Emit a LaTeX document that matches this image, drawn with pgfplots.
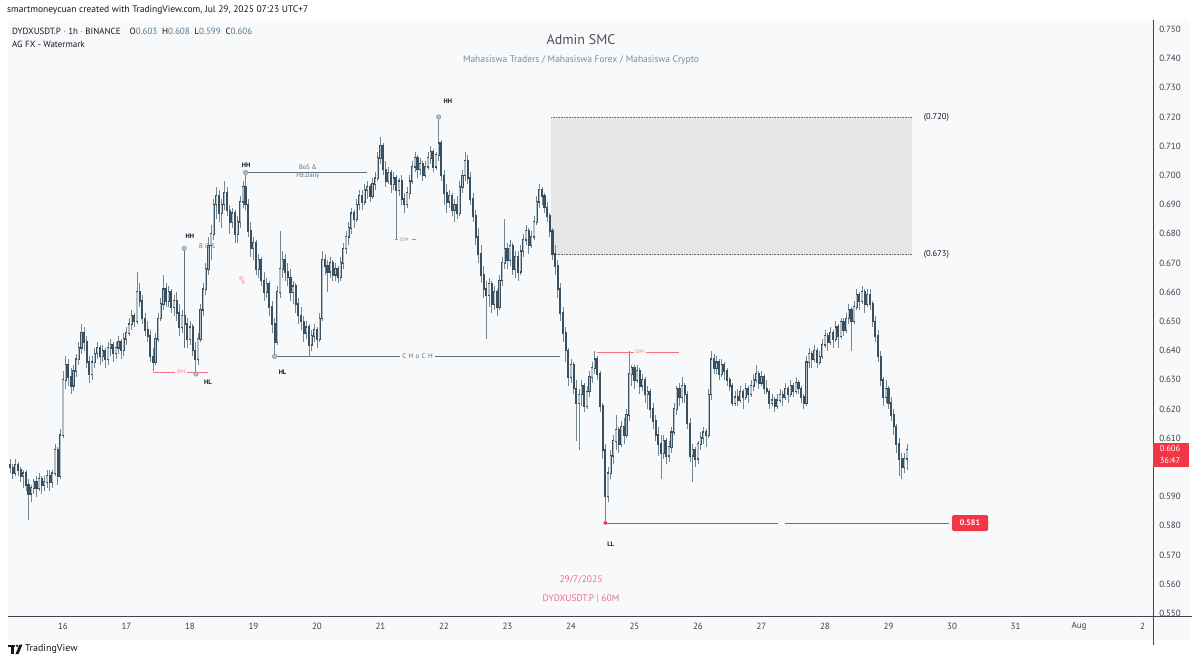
\documentclass[border=0pt]{standalone}
\usepackage{fontspec}
\setmainfont{PT Sans}
\usepackage{pgfplots}
\usepackage{pgfplotstable}
\pgfplotsset{compat=1.18}
\pgfdeclarelayer{bg}
\pgfsetlayers{bg,main}

\definecolor{pane}{HTML}{F8F9FA}
\definecolor{zone}{HTML}{E6E6E6}
\definecolor{upbody}{HTML}{B0BEC8}
\definecolor{downbody}{HTML}{3A5061}
\definecolor{wick}{HTML}{74868F}
\definecolor{tvred}{HTML}{F23645}
\definecolor{idmred}{HTML}{F2737C}
\definecolor{annot}{HTML}{5E6E7A}
\definecolor{ink}{HTML}{131722}
\definecolor{tick}{HTML}{3C4048}
\definecolor{wmgray}{HTML}{7A8C98}
\definecolor{wmpink}{HTML}{EC6F8E}
\definecolor{ohlc}{HTML}{5C7888}

% hourly candles, t = hours since Jul 15 04:00 (UTC+7)
\pgfplotstableread{
t o h l c
0 0.601 0.603 0.598 0.600
1 0.600 0.601 0.596 0.598
2 0.598 0.603 0.597 0.601
3 0.601 0.602 0.597 0.599
4 0.599 0.600 0.595 0.597
5 0.597 0.599 0.593 0.598
6 0.598 0.599 0.592 0.594
7 0.594 0.596 0.582 0.591
8 0.591 0.594 0.588 0.593
9 0.593 0.596 0.591 0.595
10 0.595 0.597 0.590 0.593
11 0.593 0.598 0.592 0.596
12 0.596 0.597 0.591 0.594
13 0.594 0.597 0.592 0.595
14 0.595 0.599 0.593 0.597
15 0.597 0.599 0.592 0.595
16 0.595 0.599 0.593 0.598
17 0.598 0.608 0.597 0.606
18 0.606 0.607 0.594 0.597
19 0.597 0.613 0.596 0.611
20 0.611 0.633 0.610 0.630
21 0.630 0.638 0.627 0.635
22 0.635 0.637 0.628 0.631
23 0.631 0.634 0.625 0.628
24 0.628 0.635 0.626 0.633
25 0.633 0.639 0.631 0.637
26 0.637 0.643 0.635 0.641
27 0.641 0.649 0.639 0.646
28 0.646 0.648 0.640 0.643
29 0.643 0.645 0.634 0.636
30 0.636 0.638 0.629 0.632
31 0.632 0.638 0.630 0.636
32 0.636 0.641 0.634 0.639
33 0.639 0.643 0.637 0.641
34 0.641 0.642 0.635 0.638
35 0.638 0.642 0.636 0.640
36 0.640 0.641 0.634 0.637
37 0.637 0.643 0.635 0.641
38 0.641 0.644 0.638 0.642
39 0.642 0.643 0.636 0.639
40 0.639 0.643 0.637 0.641
41 0.641 0.645 0.639 0.643
42 0.643 0.644 0.637 0.640
43 0.640 0.646 0.638 0.644
44 0.644 0.648 0.642 0.646
45 0.646 0.651 0.645 0.649
46 0.649 0.654 0.647 0.652
47 0.652 0.653 0.648 0.650
48 0.650 0.667 0.649 0.660
49 0.660 0.663 0.655 0.657
50 0.657 0.659 0.649 0.651
51 0.651 0.653 0.645 0.647
52 0.647 0.650 0.643 0.645
53 0.645 0.647 0.636 0.638
54 0.638 0.641 0.633 0.636
55 0.636 0.646 0.635 0.644
56 0.644 0.653 0.643 0.651
57 0.651 0.658 0.650 0.656
58 0.656 0.666 0.654 0.661
59 0.661 0.663 0.655 0.657
60 0.657 0.662 0.655 0.660
61 0.660 0.661 0.653 0.655
62 0.655 0.659 0.652 0.657
63 0.657 0.660 0.650 0.653
64 0.653 0.656 0.645 0.648
65 0.648 0.654 0.646 0.652
66 0.652 0.655 0.647 0.649
67 0.649 0.651 0.641 0.644
68 0.644 0.650 0.642 0.648
69 0.648 0.649 0.638 0.640
70 0.640 0.643 0.632 0.637
71 0.637 0.646 0.635 0.644
72 0.644 0.656 0.643 0.654
73 0.654 0.663 0.652 0.661
74 0.661 0.670 0.659 0.668
75 0.668 0.679 0.666 0.676
76 0.676 0.683 0.671 0.680
77 0.680 0.692 0.678 0.690
78 0.690 0.696 0.685 0.693
79 0.693 0.695 0.684 0.687
80 0.687 0.692 0.682 0.690
81 0.690 0.698 0.688 0.694
82 0.694 0.696 0.686 0.688
83 0.688 0.690 0.680 0.684
84 0.684 0.689 0.682 0.687
85 0.687 0.688 0.677 0.680
86 0.680 0.686 0.677 0.684
87 0.684 0.693 0.682 0.691
88 0.691 0.698 0.689 0.696
89 0.696 0.701 0.688 0.690
90 0.690 0.692 0.679 0.681
91 0.681 0.684 0.672 0.675
92 0.675 0.679 0.671 0.677
93 0.677 0.678 0.666 0.668
94 0.668 0.673 0.665 0.671
95 0.671 0.672 0.662 0.664
96 0.664 0.667 0.657 0.660
97 0.660 0.665 0.658 0.663
98 0.663 0.664 0.652 0.655
99 0.655 0.657 0.646 0.649
100 0.649 0.651 0.638 0.643
101 0.643 0.662 0.642 0.660
102 0.660 0.681 0.658 0.668
103 0.668 0.674 0.665 0.671
104 0.671 0.673 0.664 0.667
105 0.667 0.670 0.662 0.665
106 0.665 0.668 0.657 0.660
107 0.660 0.664 0.656 0.662
108 0.662 0.663 0.653 0.656
109 0.656 0.658 0.649 0.652
110 0.652 0.655 0.647 0.650
111 0.650 0.652 0.643 0.646
112 0.646 0.650 0.644 0.648
113 0.648 0.649 0.638 0.642
114 0.642 0.647 0.640 0.645
115 0.645 0.649 0.643 0.647
116 0.647 0.648 0.641 0.644
117 0.644 0.653 0.643 0.651
118 0.651 0.674 0.650 0.671
119 0.671 0.673 0.666 0.669
120 0.669 0.671 0.660 0.667
121 0.667 0.672 0.665 0.670
122 0.670 0.671 0.664 0.666
123 0.666 0.670 0.664 0.668
124 0.668 0.669 0.663 0.665
125 0.665 0.672 0.664 0.670
126 0.670 0.677 0.668 0.675
127 0.675 0.681 0.673 0.679
128 0.679 0.684 0.676 0.682
129 0.682 0.689 0.680 0.687
130 0.687 0.688 0.682 0.685
131 0.685 0.692 0.684 0.690
132 0.690 0.695 0.688 0.693
133 0.693 0.695 0.688 0.691
134 0.691 0.697 0.690 0.695
135 0.695 0.698 0.692 0.696
136 0.696 0.697 0.691 0.693
137 0.693 0.699 0.692 0.697
138 0.697 0.701 0.695 0.699
139 0.699 0.708 0.698 0.706
140 0.706 0.713 0.704 0.710
141 0.710 0.711 0.700 0.702
142 0.702 0.705 0.696 0.698
143 0.698 0.703 0.697 0.701
144 0.701 0.702 0.694 0.697
145 0.697 0.701 0.695 0.699
146 0.699 0.700 0.678 0.695
147 0.695 0.699 0.693 0.698
148 0.698 0.700 0.690 0.692
149 0.692 0.694 0.687 0.690
150 0.690 0.696 0.689 0.694
151 0.694 0.700 0.692 0.698
152 0.698 0.705 0.697 0.703
153 0.703 0.708 0.701 0.706
154 0.706 0.707 0.699 0.702
155 0.702 0.706 0.700 0.704
156 0.704 0.705 0.698 0.700
157 0.700 0.705 0.699 0.703
158 0.703 0.708 0.702 0.706
159 0.706 0.710 0.704 0.708
160 0.708 0.709 0.701 0.703
161 0.703 0.708 0.702 0.707
162 0.707 0.720 0.705 0.711
163 0.711 0.712 0.698 0.700
164 0.700 0.702 0.690 0.694
165 0.694 0.697 0.687 0.691
166 0.691 0.695 0.689 0.693
167 0.693 0.694 0.686 0.688
168 0.688 0.692 0.684 0.690
169 0.690 0.693 0.685 0.687
170 0.687 0.698 0.686 0.696
171 0.696 0.702 0.694 0.700
172 0.700 0.708 0.698 0.705
173 0.705 0.707 0.697 0.699
174 0.699 0.701 0.690 0.692
175 0.692 0.694 0.684 0.686
176 0.686 0.688 0.676 0.679
177 0.679 0.682 0.670 0.673
178 0.673 0.676 0.663 0.666
179 0.666 0.669 0.658 0.661
180 0.661 0.664 0.644 0.659
181 0.659 0.665 0.655 0.663
182 0.663 0.664 0.653 0.656
183 0.656 0.662 0.654 0.660
184 0.660 0.661 0.652 0.655
185 0.655 0.666 0.654 0.664
186 0.664 0.672 0.662 0.670
187 0.670 0.685 0.668 0.675
188 0.675 0.677 0.668 0.671
189 0.671 0.678 0.669 0.676
190 0.676 0.677 0.666 0.668
191 0.668 0.674 0.665 0.672
192 0.672 0.674 0.664 0.667
193 0.667 0.676 0.666 0.674
194 0.674 0.680 0.672 0.678
195 0.678 0.683 0.676 0.681
196 0.681 0.682 0.673 0.676
197 0.676 0.681 0.675 0.679
198 0.679 0.686 0.678 0.684
199 0.684 0.693 0.683 0.691
200 0.691 0.697 0.689 0.695
201 0.695 0.696 0.690 0.693
202 0.693 0.694 0.687 0.689
203 0.689 0.691 0.684 0.686
204 0.686 0.687 0.679 0.681
205 0.681 0.682 0.671 0.673
206 0.673 0.676 0.666 0.669
207 0.669 0.671 0.658 0.661
208 0.661 0.663 0.650 0.653
209 0.653 0.655 0.643 0.646
210 0.646 0.648 0.636 0.640
211 0.640 0.641 0.628 0.631
212 0.631 0.637 0.629 0.635
213 0.635 0.636 0.625 0.627
214 0.627 0.630 0.609 0.622
215 0.622 0.627 0.606 0.625
216 0.625 0.630 0.621 0.628
217 0.628 0.629 0.619 0.621
218 0.621 0.628 0.620 0.626
219 0.626 0.633 0.624 0.631
220 0.631 0.636 0.629 0.634
221 0.634 0.640 0.632 0.637
222 0.637 0.638 0.630 0.632
223 0.632 0.633 0.619 0.621
224 0.621 0.622 0.603 0.606
225 0.606 0.608 0.581 0.590
226 0.590 0.600 0.588 0.598
227 0.598 0.606 0.596 0.604
228 0.604 0.611 0.601 0.609
229 0.609 0.618 0.606 0.613
230 0.613 0.614 0.605 0.608
231 0.608 0.616 0.607 0.614
232 0.614 0.617 0.608 0.611
233 0.611 0.620 0.610 0.618
234 0.618 0.640 0.616 0.632
235 0.632 0.635 0.628 0.634
236 0.634 0.635 0.627 0.630
237 0.630 0.635 0.629 0.633
238 0.633 0.634 0.625 0.628
239 0.628 0.632 0.626 0.630
240 0.630 0.631 0.622 0.625
241 0.625 0.628 0.620 0.626
242 0.626 0.627 0.617 0.620
243 0.620 0.622 0.613 0.616
244 0.616 0.618 0.609 0.611
245 0.611 0.614 0.604 0.608
246 0.608 0.611 0.596 0.605
247 0.605 0.611 0.603 0.609
248 0.609 0.610 0.601 0.604
249 0.604 0.609 0.602 0.607
250 0.607 0.614 0.605 0.612
251 0.612 0.622 0.611 0.620
252 0.620 0.628 0.618 0.627
253 0.627 0.629 0.621 0.624
254 0.624 0.631 0.622 0.628
255 0.628 0.629 0.622 0.625
256 0.625 0.626 0.613 0.615
257 0.615 0.617 0.602 0.604
258 0.604 0.608 0.595 0.606
259 0.606 0.607 0.600 0.603
260 0.603 0.609 0.601 0.608
261 0.608 0.612 0.606 0.610
262 0.610 0.614 0.608 0.612
263 0.612 0.613 0.607 0.611
264 0.611 0.627 0.610 0.625
265 0.625 0.640 0.623 0.637
266 0.637 0.639 0.632 0.634
267 0.634 0.638 0.632 0.636
268 0.636 0.637 0.630 0.632
269 0.632 0.637 0.631 0.635
270 0.635 0.636 0.630 0.633
271 0.633 0.634 0.628 0.630
272 0.630 0.631 0.626 0.628
273 0.628 0.629 0.621 0.622
274 0.622 0.626 0.621 0.624
275 0.624 0.627 0.621 0.623
276 0.623 0.628 0.622 0.626
277 0.626 0.627 0.620 0.624
278 0.624 0.629 0.623 0.627
279 0.627 0.628 0.622 0.625
280 0.625 0.630 0.624 0.628
281 0.628 0.632 0.626 0.630
282 0.630 0.635 0.629 0.632
283 0.632 0.633 0.627 0.629
284 0.629 0.633 0.628 0.631
285 0.631 0.632 0.625 0.627
286 0.627 0.630 0.625 0.626
287 0.626 0.627 0.620 0.622
288 0.622 0.625 0.621 0.623
289 0.623 0.624 0.619 0.621
290 0.621 0.625 0.620 0.623
291 0.623 0.627 0.622 0.625
292 0.625 0.626 0.621 0.624
293 0.624 0.629 0.623 0.627
294 0.627 0.628 0.622 0.625
295 0.625 0.630 0.624 0.628
296 0.628 0.629 0.624 0.626
297 0.626 0.631 0.625 0.629
298 0.629 0.630 0.625 0.627
299 0.627 0.628 0.622 0.624
300 0.624 0.625 0.620 0.622
301 0.622 0.638 0.621 0.636
302 0.636 0.641 0.634 0.639
303 0.639 0.640 0.634 0.637
304 0.637 0.642 0.636 0.640
305 0.640 0.641 0.634 0.636
306 0.636 0.640 0.635 0.638
307 0.638 0.644 0.637 0.642
308 0.642 0.647 0.641 0.645
309 0.645 0.646 0.640 0.643
310 0.643 0.648 0.642 0.646
311 0.646 0.647 0.641 0.644
312 0.644 0.650 0.643 0.648
313 0.648 0.649 0.641 0.645
314 0.645 0.651 0.644 0.650
315 0.650 0.651 0.645 0.647
316 0.647 0.653 0.646 0.651
317 0.651 0.656 0.649 0.654
318 0.654 0.655 0.640 0.650
319 0.650 0.657 0.649 0.655
320 0.655 0.661 0.654 0.659
321 0.659 0.660 0.654 0.657
322 0.657 0.662 0.656 0.660
323 0.660 0.661 0.653 0.656
324 0.656 0.661 0.655 0.659
325 0.659 0.661 0.654 0.656
326 0.656 0.657 0.648 0.650
327 0.650 0.652 0.643 0.645
328 0.645 0.647 0.636 0.638
329 0.638 0.640 0.628 0.630
330 0.630 0.631 0.621 0.624
331 0.624 0.630 0.622 0.627
332 0.627 0.628 0.620 0.622
333 0.622 0.624 0.616 0.618
334 0.618 0.620 0.611 0.614
335 0.614 0.615 0.605 0.608
336 0.608 0.610 0.597 0.603
337 0.603 0.605 0.596 0.600
338 0.600 0.605 0.598 0.603
339 0.603 0.608 0.599 0.606
}\candles

\begin{document}
\begin{tikzpicture}[x=1pt,y=1pt]
\begin{axis}[
  name=ax,
  scale only axis, width=1145pt, height=596pt,
  xmin=-0.76, xmax=431.97,
  ymin=0.54911, ymax=0.75322,
  axis line style={draw=none},
  major tick length=0pt,
  xtick={20,44,68,92,116,140,164,188,212,236,260,284,308,332,356,380,404,428},
  xticklabels={16,17,18,19,20,21,22,23,24,25,26,27,28,29,30,31,Aug,2},
  ytick={0.55,0.56,0.57,0.58,0.59,0.61,0.62,0.63,0.64,0.65,0.66,0.67,0.68,0.69,0.70,0.71,0.72,0.73,0.74,0.75},
  yticklabels={0.550,0.560,0.570,0.580,0.590,0.610,0.620,0.630,0.640,0.650,0.660,0.670,0.680,0.690,0.700,0.710,0.720,0.730,0.740,0.750},
  yticklabel pos=right,
  ticklabel style={font=\fontsize{9}{10}\selectfont, text=tick},
  xticklabel style={anchor=center, yshift=-10pt},
  yticklabel style={anchor=center, xshift=17pt},
  clip=false,
]
% lower-left corner of the plot area, used to place the surrounding frame
\coordinate (pxo) at (axis cs:-0.76,0.54911);

% supply zone
\fill[zone] (axis cs:204.5,0.673) rectangle (axis cs:340.9,0.720);
\draw[annot, densely dotted, line width=0.6pt] (axis cs:204.5,0.720) -- (axis cs:340.9,0.720);
\draw[annot, densely dotted, line width=0.6pt] (axis cs:204.5,0.673) -- (axis cs:340.9,0.673);
\node[font=\fontsize{8.5}{10}\selectfont, text=ink, anchor=west] at (axis cs:344,0.720) {(0.720)};
\node[font=\fontsize{8.5}{10}\selectfont, text=ink, anchor=west] at (axis cs:344,0.673) {(0.673)};

% wicks: low to high
\addplot[-, draw=wick, line width=0.7pt, mark=none, forget plot,
  quiver={u=0, v={\thisrow{h}-\thisrow{l}}}]
  table[x=t, y=l] {\candles};
% every body in the dark tone, padded a little so flat candles still show
\addplot[-, draw=downbody, line width=2.1pt, mark=none, forget plot,
  quiver={u=0, v={abs(\thisrow{c}-\thisrow{o})+0.0006}}]
  table[x=t, y expr={min(\thisrow{o},\thisrow{c})-0.0003}] {\candles};
% light inside of the rising bodies (zero length for falling ones)
\addplot[-, draw=upbody, line width=1.3pt, mark=none, forget plot,
  quiver={u=0, v={max(\thisrow{c}-\thisrow{o}-0.0002,0)}}]
  table[x=t, y expr={\thisrow{o}+0.0001}] {\candles};

% structure annotations
\draw[annot, line width=0.7pt] (axis cs:65.8,0.675) -- (axis cs:65.8,0.641);
\draw[annot, line width=0.8pt] (axis cs:89,0.701) -- (axis cs:135,0.701);
\node[font=\fontsize{6.5}{7.5}\selectfont, text=annot, align=center] at (axis cs:112.6,0.7012) {BoS \&\\PB.Daily};
\draw[annot, line width=0.8pt] (axis cs:100,0.638) -- (axis cs:208,0.638);
\node[font=\fontsize{7}{8}\selectfont, text=annot, fill=pane, inner sep=2pt] at (axis cs:154,0.638) {C\,\,H\,\,o\,\,C\,\,H};

\draw[idmred, line width=0.7pt] (axis cs:54,0.6327) -- (axis cs:75,0.6327);
\node[font=\fontsize{5}{6}\selectfont, text=idmred, fill=pane, inner sep=1.5pt] at (axis cs:64.6,0.6327) {IDM};
\node[font=\fontsize{5}{6}\selectfont, text=idmred, rotate=-65] at (axis cs:87.7,0.664) {IDM};
\draw[idmred, line width=0.7pt] (axis cs:145.5,0.678) -- (axis cs:146.5,0.678);
\node[font=\fontsize{5}{6}\selectfont, text=idmred] at (axis cs:149,0.678) {IDM};
\draw[idmred, line width=0.7pt] (axis cs:151.8,0.678) -- (axis cs:153.6,0.678);
\draw[idmred, line width=0.7pt] (axis cs:222,0.6395) -- (axis cs:253,0.6395);
\node[font=\fontsize{5}{6}\selectfont, text=idmred, fill=pane, inner sep=1.5pt] at (axis cs:238,0.6395) {IDM};

\draw[tvred, line width=0.7pt] (axis cs:225,0.581) -- (axis cs:290.3,0.581);
\draw[tvred, line width=0.7pt] (axis cs:293,0.581) -- (axis cs:355,0.581);

\addplot[only marks, mark=*, mark size=2.3pt, draw=annot!80, fill=annot!45, forget plot]
  coordinates {(65.8,0.675) (70.3,0.632) (89,0.701) (100,0.638) (162,0.720)};
\addplot[only marks, mark=*, mark size=1.8pt, draw=tvred, fill=tvred, forget plot]
  coordinates {(225,0.581)};

\node[font=\bfseries\fontsize{6.5}{7}\selectfont, text=ink] at (axis cs:68,0.6793) {HH};
\node[font=\fontsize{6.5}{7}\selectfont, text=annot] at (axis cs:74.5,0.6758) {B\,\,O\,\,S};
\node[font=\bfseries\fontsize{6.5}{7}\selectfont, text=ink] at (axis cs:74.8,0.6293) {HL};
\node[font=\bfseries\fontsize{6.5}{7}\selectfont, text=ink] at (axis cs:89.2,0.7036) {HH};
\node[font=\bfseries\fontsize{6.5}{7}\selectfont, text=ink] at (axis cs:103,0.6327) {HL};
\node[font=\bfseries\fontsize{6.5}{7}\selectfont, text=ink] at (axis cs:165.5,0.7255) {HH};
\node[font=\bfseries\fontsize{6.5}{7}\selectfont, text=ink] at (axis cs:227,0.5738) {LL};
\end{axis}

% frame around the plot, in units of the 1200 x 662 canvas
\begin{scope}[shift={(pxo)}, xshift=-8pt, yshift=-46pt]
\begin{pgfonlayer}{bg}
\fill[white] (0,0) rectangle (1200,662);
\fill[pane] (8,22) rectangle (1190,642);
\end{pgfonlayer}

% axis lines
\draw[ink!80, line width=0.7pt] (1153,17) -- (1153,642);
\draw[ink!80, line width=0.7pt] (8,46) -- (1192,46);

% price labels
\fill[tvred, rounded corners=1.5pt] (952,131) rectangle (988,147);
\node[font=\bfseries\fontsize{8}{9}\selectfont, text=white] at (970,139) {0.581};
\fill[tvred] (1153,195) rectangle (1189,219);
\node[font=\fontsize{8.5}{9}\selectfont, text=white] at (1170,213) {0.606};
\node[font=\fontsize{8.5}{9}\selectfont, text=white] at (1170,201) {36:47};

% watermark
\node[font=\fontsize{14}{16}\selectfont, text=ink!75] at (581,622) {Admin SMC};
\node[font=\fontsize{9.5}{11}\selectfont, text=wmgray] at (581,602) {Mahasiswa Traders / Mahasiswa Forex / Mahasiswa Crypto};
\node[font=\fontsize{9.5}{11}\selectfont, text=wmpink] at (581,82) {29/7/2025};
\node[font=\fontsize{9.5}{11}\selectfont, text=wmpink] at (581,63) {DYDXUSDT.P | 60M};

% header and legend
\node[anchor=west, font=\fontsize{9.5}{11}\selectfont, text=ink, inner sep=0pt] at (7,652) {smartmoneycuan created with TradingView.com, Jul 29, 2025 07:23 UTC+7};
\node[anchor=west, font=\fontsize{9}{10}\selectfont, text=ink, inner sep=0pt] at (12,631) {DYDXUSDT.P $\cdot$ 1h $\cdot$ BINANCE\quad O\textcolor{ohlc}{0.603}\ \ H\textcolor{ohlc}{0.608}\ \ L\textcolor{ohlc}{0.599}\ \ C\textcolor{ohlc}{0.606}};
\node[anchor=west, font=\fontsize{9}{10}\selectfont, text=ink, inner sep=0pt] at (12,618) {AG FX - Watermark};

% footer logo
\fill[ink] (8,15) rectangle (15,17.5);
\fill[ink] (11.2,8) rectangle (14,17.5);
\fill[ink] (17.2,16.2) circle (1.3);
\fill[ink] (19.5,17.5) -- (22.5,17.5) -- (18.5,8) -- (15.5,8) -- cycle;
\node[anchor=west, font=\fontsize{10}{11}\selectfont, text=ink, inner sep=0pt] at (25,12.5) {TradingView};

\pgfresetboundingbox
\path[use as bounding box] (0,0) rectangle (1200,662);
\end{scope}
\end{tikzpicture}
\end{document}
